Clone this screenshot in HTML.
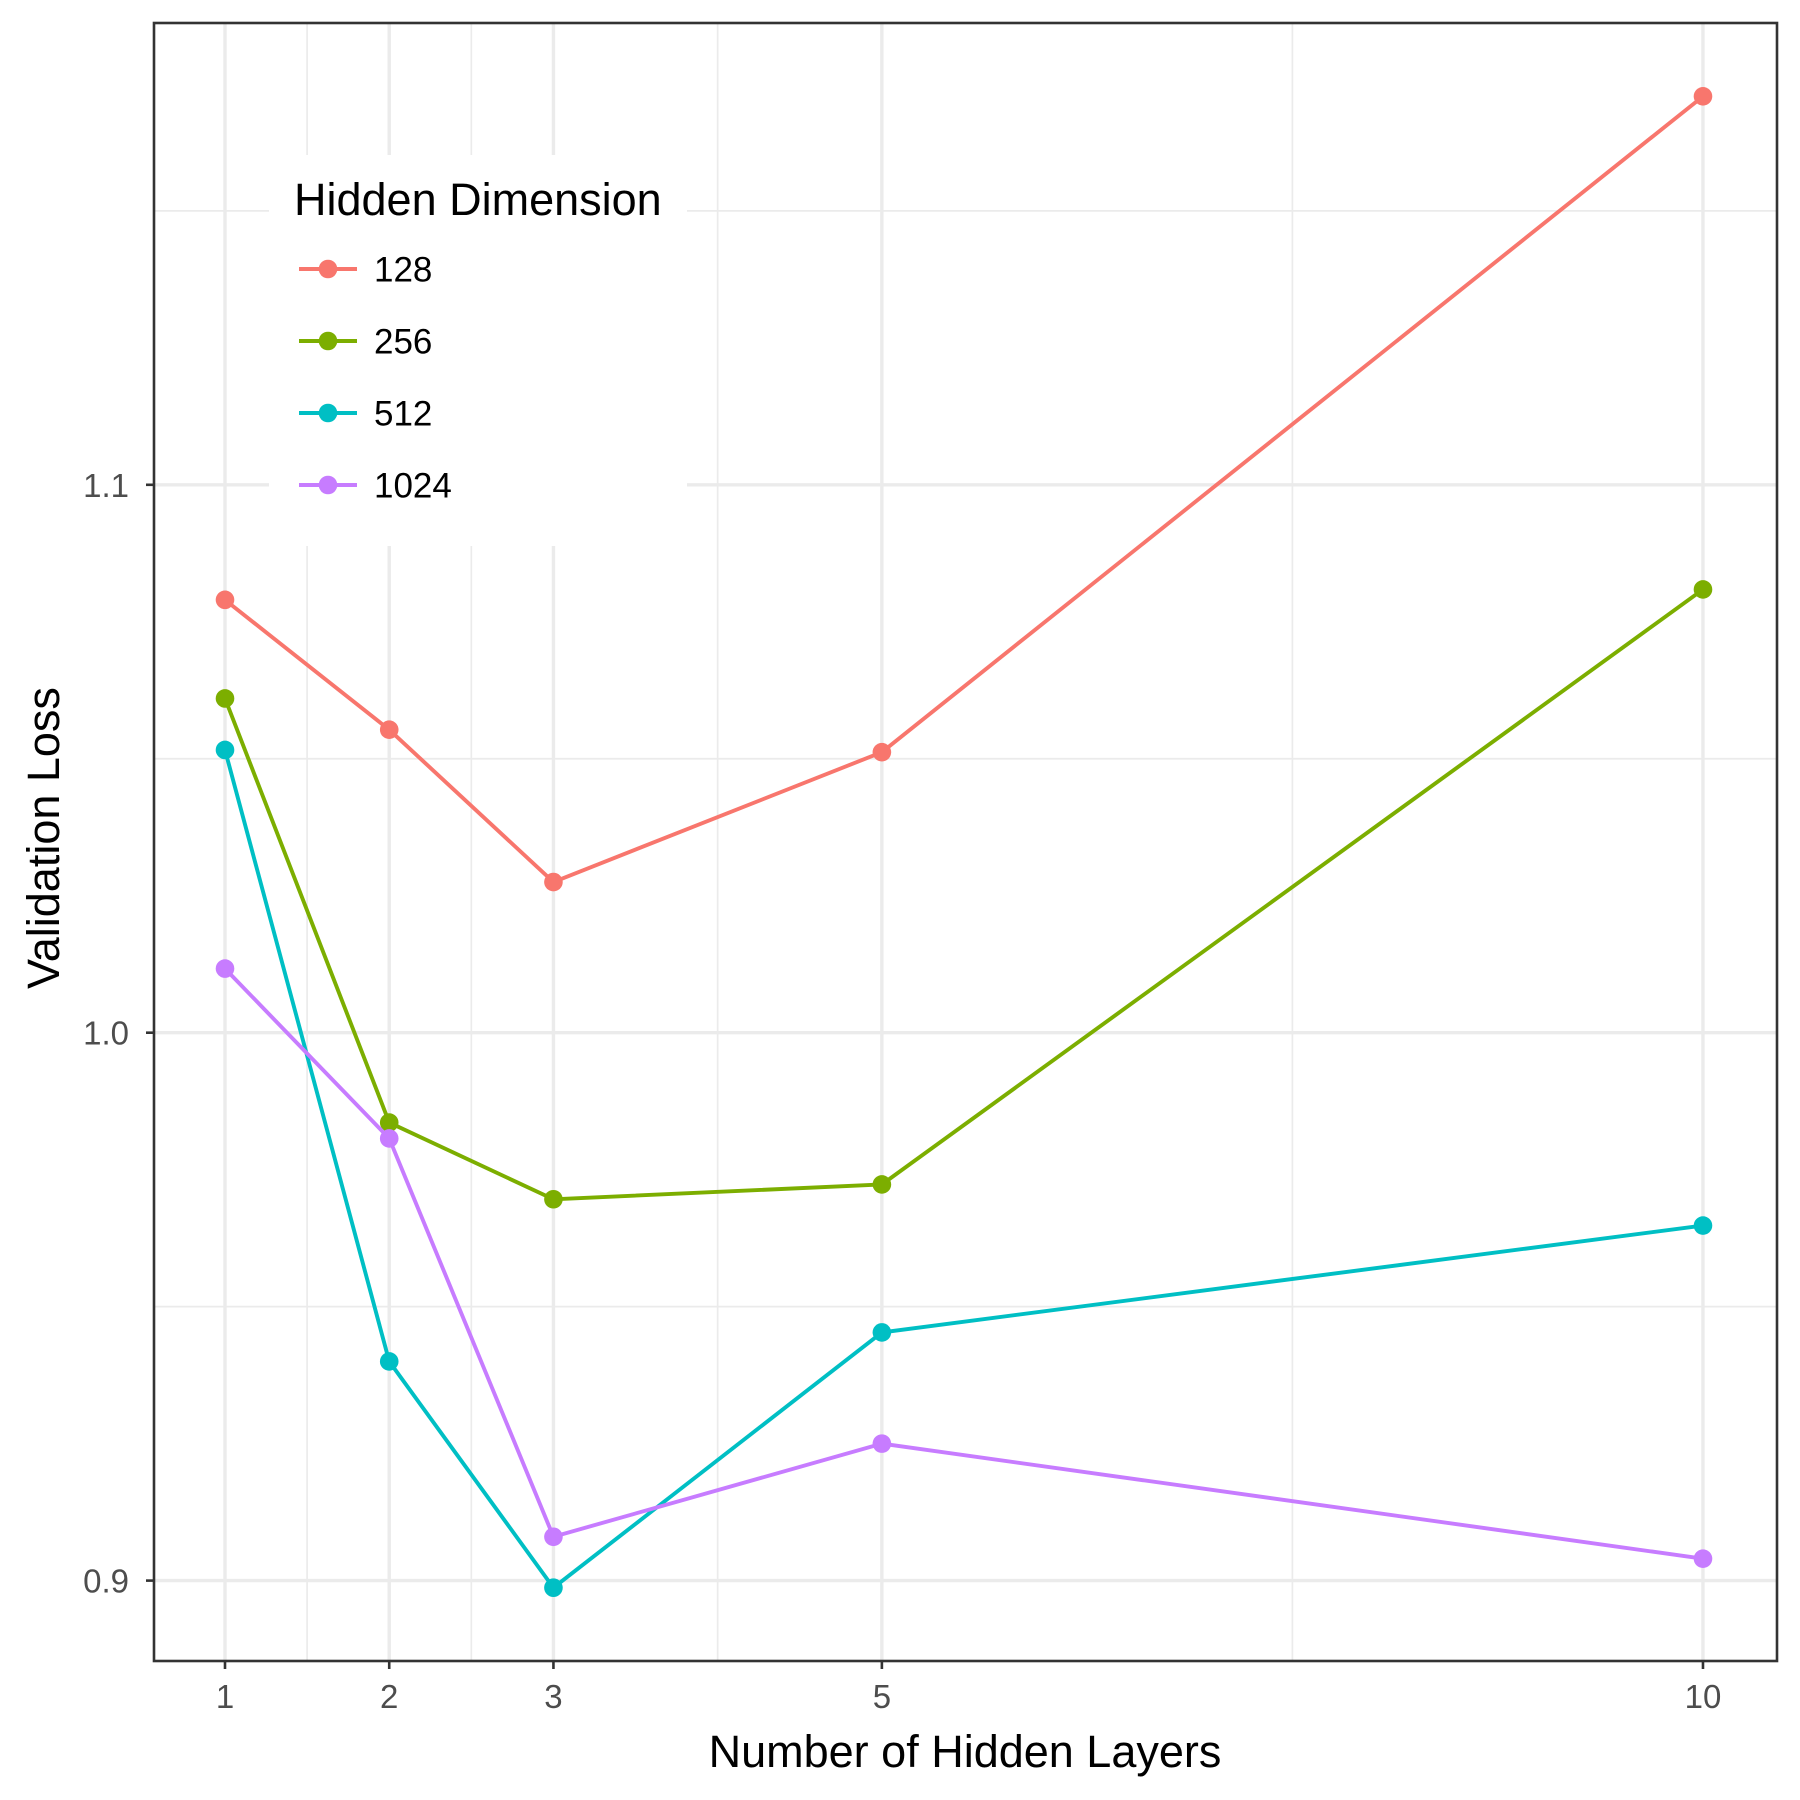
<!DOCTYPE html>
<html><head><meta charset="utf-8"><style>
html,body{margin:0;padding:0;background:#fff}
svg{display:block;font-family:"Liberation Sans",Arial,sans-serif}
</style></head><body>
<svg id="chart" width="1800" height="1800" viewBox="0 0 1800 1800">
<rect x="0" y="0" width="1800" height="1800" fill="#fff"/>
<g id="grid"></g>
<g id="series"></g>
<g id="legend"></g>
<g id="axes"></g>
<text x="965" y="1767" font-size="45" text-anchor="middle" fill="#000">Number of Hidden Layers</text>
<text transform="translate(59,838) rotate(-90)" font-size="45" text-anchor="middle" fill="#000">Validation Loss</text>
</svg>
<script>
const xBreaks = [1, 2, 3, 5, 10];
const xMinor = [1.5, 2.5, 4, 7.5];
const yBreaks = [0.9, 1.0, 1.1];
const yTickLabels = ["0.9", "1.0", "1.1"];
const yMinor = [0.95, 1.05, 1.15];
const layers = [1, 2, 3, 5, 10];
const seriesNames = ["128", "256", "512", "1024"];
const seriesColors = ["#F8766D", "#7CAE00", "#00BFC4", "#C77CFF"];
const loss128 = [1.079, 1.0553, 1.0275, 1.0512, 1.1709];
const loss256 = [1.061, 0.9836, 0.9696, 0.9723, 1.0809];
const loss512 = [1.0516, 0.940, 0.8987, 0.9453, 0.9648];
const loss1024 = [1.0117, 0.9807, 0.908, 0.925, 0.904];
const allSeries = [loss128, loss256, loss512, loss1024];

const NS = "http://www.w3.org/2000/svg";
const P = {l:154, r:1777, t:23, b:1661};
function xs(v){ return 225 + (v - 1) * 164.22; }
function ys(v){ return 1032.7 - (v - 1) * 5479; }
function mk(tag, attrs, parent){ const e = document.createElementNS(NS, tag); for (const k in attrs) e.setAttribute(k, attrs[k]); parent.appendChild(e); return e; }

const grid = document.getElementById('grid');
yMinor.forEach(v => { const l = mk('line', {x1:P.l, x2:P.r, y1:ys(v), y2:ys(v), stroke:'#EBEBEB', 'stroke-width':1.7}, grid);

 });
xMinor.forEach(v => { const l = mk('line', {x1:xs(v), x2:xs(v), y1:P.t, y2:P.b, stroke:'#EBEBEB', 'stroke-width':1.7}, grid);

 });
yBreaks.forEach(v => { const l = mk('line', {x1:P.l, x2:P.r, y1:ys(v), y2:ys(v), stroke:'#EBEBEB', 'stroke-width':3.4}, grid);

 });
xBreaks.forEach(v => { const l = mk('line', {x1:xs(v), x2:xs(v), y1:P.t, y2:P.b, stroke:'#EBEBEB', 'stroke-width':3.4}, grid);

 });

const sg = document.getElementById('series');
allSeries.forEach((vals, i) => {
  const pts = vals.map((v, j) => xs(layers[j]) + ',' + ys(v)).join(' ');
  const pl = mk('polyline', {points:pts, fill:'none', stroke:seriesColors[i], 'stroke-width':3.9, 'stroke-linejoin':'round'}, sg);
  
  
  vals.forEach((v, j) => {
    const c = mk('circle', {cx:xs(layers[j]), cy:ys(v), r:9.3, fill:seriesColors[i]}, sg);
    
    
  });
});

const lg = document.getElementById('legend');
const lb = mk('rect', {x:269, y:155, width:418, height:391, fill:'#fff'}, lg);


const lt = mk('text', {x:294, y:215, 'font-size':45, fill:'#000'}, lg);
lt.textContent = 'Hidden Dimension';


const keyY = [269, 341, 413, 485];
seriesNames.forEach((n, i) => {
  const g = mk('g', {}, lg);
  
  
  mk('line', {x1:299, x2:357, y1:keyY[i], y2:keyY[i], stroke:seriesColors[i], 'stroke-width':4}, g);
  mk('circle', {cx:328, cy:keyY[i], r:9.3, fill:seriesColors[i]}, g);
  const t = mk('text', {x:374, y:keyY[i] + 12.5, 'font-size':35, fill:'#000'}, g);
  t.textContent = n;
});

const ax = document.getElementById('axes');
const border = mk('rect', {x:P.l, y:P.t, width:P.r - P.l, height:P.b - P.t, fill:'none', stroke:'#333', 'stroke-width':2.6}, ax);


yBreaks.forEach((v, i) => {
  mk('line', {x1:P.l - 8, x2:P.l, y1:ys(v), y2:ys(v), stroke:'#333', 'stroke-width':2.6}, ax);
  const t = mk('text', {x:129, y:ys(v) + 12, 'font-size':33, fill:'#4D4D4D', 'text-anchor':'end'}, ax);
  t.textContent = yTickLabels[i];
  
  
});
xBreaks.forEach(v => {
  mk('line', {x1:xs(v), x2:xs(v), y1:P.b, y2:P.b + 8, stroke:'#333', 'stroke-width':2.6}, ax);
  const t = mk('text', {x:xs(v), y:1708, 'font-size':33, fill:'#4D4D4D', 'text-anchor':'middle'}, ax);
  t.textContent = String(v);
  
  
});
</script>
</body></html>
